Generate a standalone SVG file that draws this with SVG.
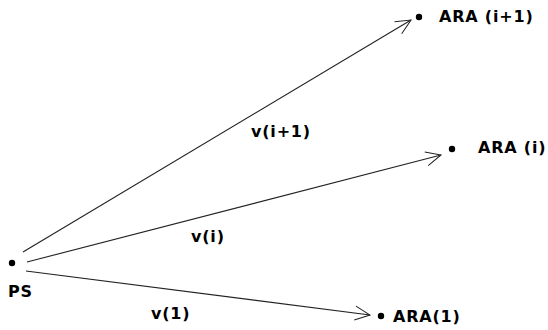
<svg xmlns="http://www.w3.org/2000/svg" width="548" height="330" viewBox="0 0 548 330">
<defs>
<marker id="arr" markerUnits="userSpaceOnUse" markerWidth="20" markerHeight="20" refX="16" refY="8" orient="auto" viewBox="0 0 20 16">
<path d="M1,1 L16,8 L1,15" fill="none" stroke="#222" stroke-width="1"/>
</marker>
<style>
.lbl{font-family:"DejaVu Sans",Verdana,sans-serif;font-weight:bold;font-size:16px;letter-spacing:0.8px;fill:#000}
.ln{stroke:#222;stroke-width:1.1;fill:none;marker-end:url(#arr)}
.dot{fill:#000}
</style>
</defs>
<rect width="548" height="330" fill="#fff"/>
<g id="connectors">
<line class="ln" x1="23" y1="252" x2="411" y2="20"/>
<line class="ln" x1="27" y1="262" x2="441" y2="155"/>
<line class="ln" x1="26" y1="271" x2="370" y2="315"/>
</g>
<g id="PS"><circle class="dot" cx="12" cy="263" r="3.2"/><text class="lbl" x="8" y="297">PS</text></g>
<g id="ARA_i1"><circle class="dot" cx="419" cy="17" r="3.2"/><text class="lbl" x="439" y="22">ARA (i+1)</text></g>
<g id="ARA_i"><circle class="dot" cx="452" cy="149" r="3.2"/><text class="lbl" x="478" y="153">ARA (i)</text></g>
<g id="ARA_1"><circle class="dot" cx="381" cy="316" r="3.2"/><text class="lbl" x="393" y="322">ARA(1)</text></g>
<g id="labels">
<text class="lbl" x="251" y="137">v(i+1)</text>
<text class="lbl" x="191" y="242">v(i)</text>
<text class="lbl" x="151" y="319">v(1)</text>
</g>
</svg>
